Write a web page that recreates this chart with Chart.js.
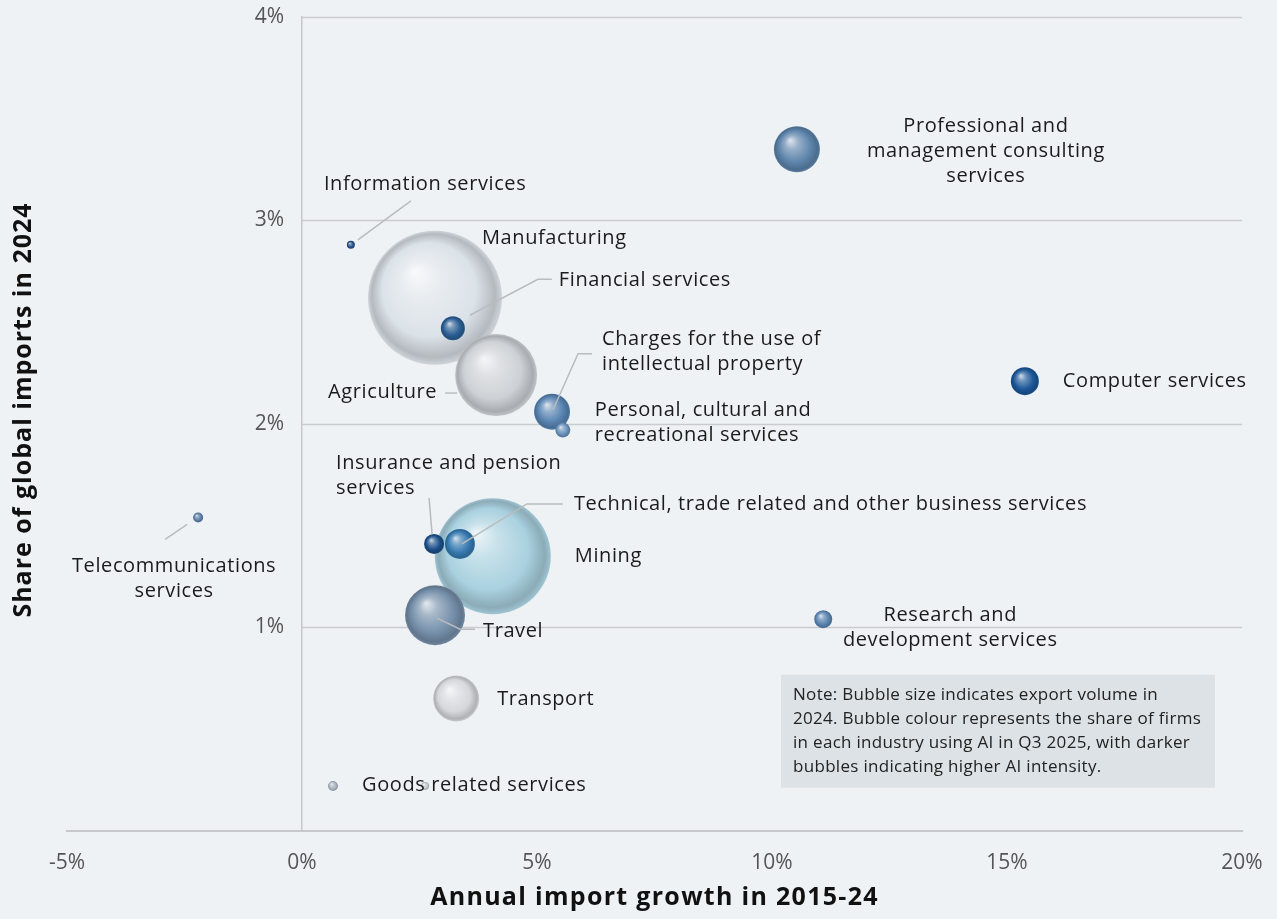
<!DOCTYPE html>
<html>
<head>
<meta charset="utf-8">
<title>Services imports and AI use</title>
<script src="https://cdn.jsdelivr.net/npm/chart.js@4.4.1/dist/chart.umd.min.js"></script>
<style>
  html, body { margin: 0; padding: 0; background: #eff2f4; }
  #wrap { width: 1277px; height: 919px; position: relative; }
</style>
</head>
<body>
<div id="wrap"><canvas id="bubbleChart"></canvas></div>
<script>
// industries, listed in paint order (large bubbles first so small ones sit on top)
var industries = [
    'Manufacturing',
    'Mining',
    'Agriculture',
    'Travel',
    'Transport',
    'Professional and\nmanagement consulting\nservices',
    'Charges for the use of\nintellectual property',
    'Personal, cultural and\nrecreational services',
    'Technical, trade related and other business services',
    'Insurance and pension\nservices',
    'Financial services',
    'Computer services',
    'Research and\ndevelopment services',
    'Information services',
    'Telecommunications\nservices',
    'Goods related services',
    ''
];
// annual import growth 2015-24 (%)
var importGrowth = [2.83, 4.06, 4.13, 2.83, 3.28, 10.53, 5.32, 5.55, 3.36, 2.81, 3.21, 15.38, 11.09, 1.04, -2.21, 0.66, 2.62];
// share of global imports in 2024 (%)
var importShare = [2.62, 1.35, 2.24, 1.06, 0.65, 3.35, 2.06, 1.97, 1.41, 1.41, 2.47, 2.21, 1.04, 2.88, 1.54, 0.22, 0.22];
// export volume 2024, as bubble radius
var exportSize = [67, 58, 41, 30, 23, 23, 18, 7.5, 15, 10, 12, 14, 9, 4, 5, 5, 4];

var xTicks = [-5, 0, 5, 10, 15, 20];
var yTicks = [1, 2, 3, 4];

// darker = more firms using AI
var bubbleColours = [
    '#dbe2e8', '#a9d1df', '#cdd1d5', '#7690ab', '#d5d8db', '#5d84ab',
    '#5884b1', '#6a92bc', '#367ab0', '#1a4e88', '#2b5e94', '#1c5797',
    '#5a84b0', '#244f85', '#5b7fa8', '#a9b3bf', '#c3c9cf'
];

// label offsets from bubble centre (px), plus optional leader line points
var labelPlacement = [
    { dx: 47, dy: -59, align: 'left' },
    { dx: 82, dy: 0, align: 'left' },
    { dx: -59, dy: 17, align: 'right', leader: [[-51, 18], [-39, 18]] },
    { dx: 48, dy: 16, align: 'left', leader: [[2, 3], [25, 14], [40, 14]] },
    { dx: 41, dy: 1, align: 'left' },
    { dx: 189, dy: -23, align: 'center' },
    { dx: 50, dy: -72, align: 'left', leader: [[1, -2], [26, -58], [40, -58]] },
    { dx: 32, dy: -20, align: 'left' },
    { dx: 114, dy: -40, align: 'left', leader: [[2, 0], [67, -40], [103, -40]] },
    { dx: -98, dy: -81, align: 'left', leader: [[-2, -10], [-5, -46]] },
    { dx: 106, dy: -48, align: 'left', leader: [[17, -13], [85, -49], [99, -49]] },
    { dx: 38, dy: 0, align: 'left' },
    { dx: 127, dy: -4, align: 'center' },
    { dx: -27, dy: -61, align: 'left', leader: [[7, -5], [60, -44]] },
    { dx: -24, dy: 49, align: 'center', leader: [[-11, 7], [-33, 22]] },
    { dx: 29, dy: -1, align: 'left' },
    null
];

var noteLines = [
    'Note: Bubble size indicates export volume in',
    '2024. Bubble colour represents the share of firms',
    'in each industry using AI in Q3 2025, with darker',
    'bubbles indicating higher AI intensity.'
];

var xTitle = 'Annual import growth in 2015-24';
var yTitle = 'Share of global imports in 2024';

Chart.defaults.font.family = '"Open Sans", "Noto Sans", sans-serif';

function mix(hex, target, t) {
    var n = parseInt(hex.slice(1), 16);
    var c = [(n >> 16) & 255, (n >> 8) & 255, n & 255];
    var out = c.map(function (v) { return Math.round(v + (target - v) * t); });
    return 'rgb(' + out.join(',') + ')';
}

// shaded sphere look
function sphereFill(ctx) {
    var i = ctx.dataIndex;
    var base = bubbleColours[i] || '#cccccc';
    var chart = ctx.chart;
    var xs = chart.scales.x, ys = chart.scales.y;
    if (ctx.type !== 'data' || !xs || !ys) return base;
    var cx = xs.getPixelForValue(importGrowth[i]);
    var cy = ys.getPixelForValue(importShare[i]);
    var r = exportSize[i];
    // scales are not laid out yet on the first pass
    if (!isFinite(cx) || !isFinite(cy)) return base;
    var g = chart.ctx.createRadialGradient(cx - 0.3 * r, cy - 0.4 * r, 0, cx, cy, r);
    g.addColorStop(0, mix(base, 255, 0.8));
    g.addColorStop(0.3, mix(base, 255, 0.35));
    g.addColorStop(0.7, base);
    g.addColorStop(0.92, mix(base, 0, 0.18));
    g.addColorStop(1, mix(base, 0, 0.06));
    return g;
}

// keep the plot area where the layout padding puts it
function noScalePadding(scale) {
    scale.paddingLeft = 0;
    scale.paddingRight = 0;
    scale.paddingTop = 0;
    scale.paddingBottom = 0;
}

// horizontal grid only right of the 0% line, y tick labels left of it
var gridPlugin = {
    id: 'partialGrid',
    beforeDatasetsDraw: function (chart) {
        var c = chart.ctx, xs = chart.scales.x, ys = chart.scales.y;
        var x0 = xs.getPixelForValue(0);
        c.save();
        c.strokeStyle = '#c9cccf';
        c.lineWidth = 1.5;
        yTicks.forEach(function (v) {
            var y = Math.round(ys.getPixelForValue(v)) + 0.5;
            c.beginPath();
            c.moveTo(x0, y);
            c.lineTo(chart.chartArea.right, y);
            c.stroke();
        });
        c.fillStyle = '#555555';
        c.font = '21px "Open Sans"';
        c.textAlign = 'right';
        c.textBaseline = 'middle';
        yTicks.forEach(function (v) {
            c.fillText(v + '%', x0 - 18, ys.getPixelForValue(v));
        });
        c.restore();
    }
};

var labelPlugin = {
    id: 'bubbleLabels',
    afterDatasetsDraw: function (chart) {
        var c = chart.ctx;
        var pts = chart.getDatasetMeta(0).data;
        c.save();
        c.font = '20px "Open Sans"';
        c.letterSpacing = '0.6px';
        c.textBaseline = 'middle';
        pts.forEach(function (p, i) {
            var place = labelPlacement[i];
            if (!place) return;
            if (place.leader) {
                c.strokeStyle = '#b9bcbf';
                c.lineWidth = 1.5;
                c.beginPath();
                place.leader.forEach(function (pt, k) {
                    if (k === 0) c.moveTo(p.x + pt[0], p.y + pt[1]);
                    else c.lineTo(p.x + pt[0], p.y + pt[1]);
                });
                c.stroke();
            }
            c.fillStyle = '#1b1b1b';
            c.textAlign = place.align;
            industries[i].split('\n').forEach(function (line, k) {
                c.fillText(line, p.x + place.dx, p.y + place.dy + k * 25);
            });
        });
        c.restore();
    },
    afterDraw: function (chart) {
        var c = chart.ctx, area = chart.chartArea;
        // note panel, bottom right of the plot
        var bx = area.right - 461, by = area.bottom - 156;
        c.save();
        c.fillStyle = '#dce2e6';
        c.fillRect(bx, by, 434, 113);
        c.fillStyle = '#222222';
        c.font = '17px "Open Sans"';
        c.letterSpacing = '0.3px';
        c.textAlign = 'left';
        c.textBaseline = 'middle';
        noteLines.forEach(function (line, k) {
            c.fillText(line, bx + 12, by + 20 + k * 24);
        });
        // axis titles
        c.font = 'bold 25px "Open Sans"';
        c.letterSpacing = '1.3px';
        c.fillStyle = '#111111';
        c.textAlign = 'center';
        c.fillText(xTitle, (area.left + area.right) / 2, 898);
        c.letterSpacing = '1px';
        c.translate(24, 410);
        c.rotate(-Math.PI / 2);
        c.fillText(yTitle, 0, 0);
        c.restore();
    }
};

var bubbleData = importGrowth.map(function (v, i) {
    return { x: v, y: importShare[i], r: exportSize[i] };
});

var canvas = document.getElementById('bubbleChart');
var bubbleChart = new Chart(canvas.getContext('2d'), {
    type: 'bubble',
    data: {
        datasets: [{
            label: 'Industries',
            data: bubbleData,
            backgroundColor: sphereFill,
            borderWidth: 0,
            hoverBorderWidth: 0
        }]
    },
    plugins: [gridPlugin, labelPlugin],
    options: {
        responsive: true,
        maintainAspectRatio: false,
        animation: false,
        events: [],
        layout: { autoPadding: false, padding: { left: 67, right: 35, top: 17, bottom: 23 } },
        plugins: {
            legend: { display: false },
            tooltip: { enabled: false }
        },
        scales: {
            x: {
                type: 'linear',
                min: xTicks[0],
                max: xTicks[xTicks.length - 1],
                afterBuildTicks: function (s) { s.ticks = xTicks.map(function (v) { return { value: v }; }); },
                afterFit: noScalePadding,
                grid: { display: false, drawTicks: false },
                border: { color: '#c6c8ca', width: 2 },
                ticks: {
                    padding: 20,
                    color: '#555555',
                    font: { size: 21 },
                    callback: function (v) { return v + '%'; }
                }
            },
            y: {
                type: 'linear',
                position: { x: 0 },
                min: 0,
                max: 4,
                afterFit: noScalePadding,
                grid: { display: false, drawTicks: false },
                border: { color: '#c6c8ca', width: 1.5 },
                ticks: { display: false, stepSize: 1 }
            }
        }
    }
});
</script>
</body>
</html>
